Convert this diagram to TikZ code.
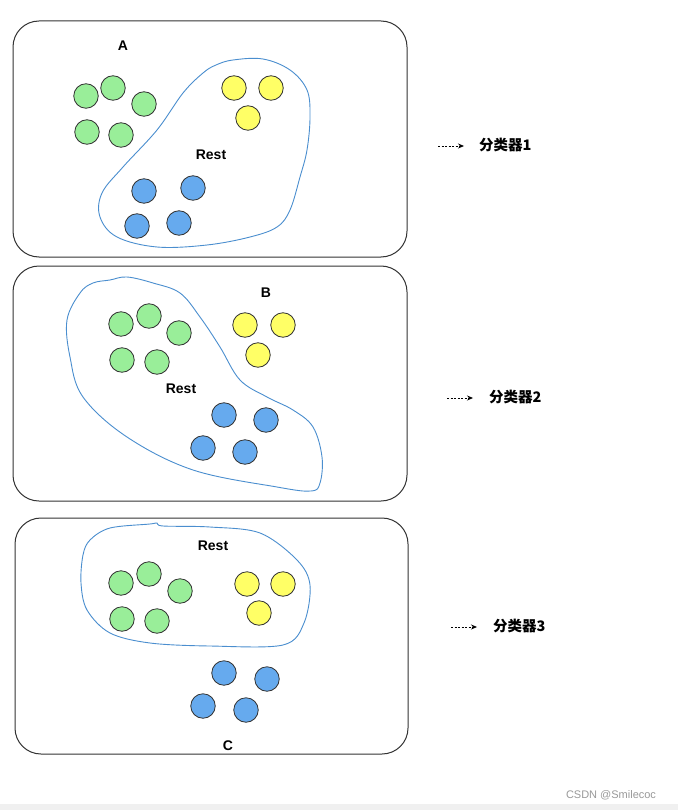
\documentclass[tikz,border=0pt]{standalone}
\usepackage{fontspec}
\setmainfont{Liberation Sans}
\newfontfamily\cjkfont{Noto Sans CJK SC}
\usetikzlibrary{arrows.meta}
\definecolor{gfill}{HTML}{99EE99}
\definecolor{yfill}{HTML}{FFFF66}
\definecolor{bfill}{HTML}{66AAEE}
\definecolor{blobc}{HTML}{4A8ECF}
\definecolor{edgec}{HTML}{333333}
\tikzset{
  panel/.style={draw=edgec, line width=1pt, rounded corners=26pt},
  dot/.style={circle, draw=edgec, line width=0.8pt, minimum size=24.5pt, inner sep=0pt},
  gdot/.style={dot, fill=gfill},
  ydot/.style={dot, fill=yfill},
  bdot/.style={dot, fill=bfill},
  blob/.style={draw=blobc, line width=0.9pt},
  lbl/.style={font=\fontsize{14}{16}\selectfont\bfseries, inner sep=0pt},
  clbl/.style={font=\fontsize{14.5}{16}\selectfont\bfseries\cjkfont, inner sep=0pt, anchor=west},
  darrow/.style={-{Stealth[length=6pt,width=5pt]}, dash pattern=on 2pt off 1.5pt, line width=0.8pt}
}
\begin{document}
\begin{tikzpicture}[x=1pt,y=-1pt]
\useasboundingbox (0,0) rectangle (678,810);
\fill[white] (0,0) rectangle (678,810);
\fill[black!6] (0,804) rectangle (678,810);

% ---------- Panel A ----------
\draw[panel] (13,21) rectangle (407,257);
\draw[blob] plot[smooth cycle, tension=0.6] coordinates {
 (216,65) (233,60) (263,59) (290,70) (307,90) (310,117) (307,150) (300,177)
 (290,210) (277,227) (250,237) (207,245) (157,247) (117,237) (100,217)
 (102,193) (123,167) (157,130) (183,93) (203,73)};
\node[lbl] (A) at (123,46) {A};
\node[lbl] (restA) at (211,155) {Rest};
\node[gdot] (ga1) at (86,96) {};
\node[gdot] (ga2) at (113,88) {};
\node[gdot] (ga3) at (144,104) {};
\node[gdot] (ga4) at (87,132) {};
\node[gdot] (ga5) at (121,135) {};
\node[ydot] (ya1) at (234,88) {};
\node[ydot] (ya2) at (271,88) {};
\node[ydot] (ya3) at (248,118) {};
\node[bdot] (ba1) at (144,191) {};
\node[bdot] (ba2) at (193,188) {};
\node[bdot] (ba3) at (137,226) {};
\node[bdot] (ba4) at (179,223) {};
\coordinate (s1) at (438,146);
\coordinate (e1) at (464,146);
\draw[darrow] (s1) -- (e1);
\node[clbl] (c1) at (479,145) {分类器1};

% ---------- Panel B ----------
\draw[panel] (13,266) rectangle (407,501);
\draw[blob] plot[smooth cycle, tension=0.6] coordinates {
 (127,277) (153,283) (180,293) (200,317) (220,347) (240,380) (267,397)
 (293,410) (313,427) (322,457) (320,483) (311,491) (277,487) (193,470)
 (127,437) (83,397) (70,357) (67,320) (80,293) (93,283) (110,280)};
\node[lbl] (B) at (266,293) {B};
\node[lbl] (restB) at (181,389) {Rest};
\node[gdot] (gb1) at (121,324) {};
\node[gdot] (gb2) at (149,316) {};
\node[gdot] (gb3) at (179,333) {};
\node[gdot] (gb4) at (122,360) {};
\node[gdot] (gb5) at (157,362) {};
\node[ydot] (yb1) at (245,325) {};
\node[ydot] (yb2) at (283,325) {};
\node[ydot] (yb3) at (258,355) {};
\node[bdot] (bb1) at (224,415) {};
\node[bdot] (bb2) at (266,420) {};
\node[bdot] (bb3) at (203,448) {};
\node[bdot] (bb4) at (245,452) {};
\coordinate (s2) at (447,398);
\coordinate (e2) at (473,398);
\draw[darrow] (s2) -- (e2);
\node[clbl] (c2) at (489,397) {分类器2};

% ---------- Panel C ----------
\draw[panel] (15,518) rectangle (408,754);
\draw[blob] plot[smooth cycle, tension=0.55] coordinates {
 (90,540) (110,528) (150,524) (157,523) (163,526) (210,527) (260,533)
 (297,560) (310,585) (304,623) (283,645) (210,646) (150,643) (110,633)
 (87,610) (81,583) (83,555)};
\node[lbl] (C) at (228,746) {C};
\node[lbl] (restC) at (213,546) {Rest};
\node[gdot] (gc1) at (121,583) {};
\node[gdot] (gc2) at (149,574) {};
\node[gdot] (gc3) at (180,591) {};
\node[gdot] (gc4) at (122,619) {};
\node[gdot] (gc5) at (157,621) {};
\node[ydot] (yc1) at (247,584) {};
\node[ydot] (yc2) at (283,584) {};
\node[ydot] (yc3) at (259,613) {};
\node[bdot] (bc1) at (224,673) {};
\node[bdot] (bc2) at (267,679) {};
\node[bdot] (bc3) at (203,706) {};
\node[bdot] (bc4) at (246,710) {};
\coordinate (s3) at (451,627);
\coordinate (e3) at (477,627);
\draw[darrow] (s3) -- (e3);
\node[clbl] (c3) at (493,626) {分类器3};

% watermark
\node[font=\fontsize{11}{12}\selectfont, text=black!40, inner sep=0pt] (wm) at (611,795) {CSDN @Smilecoc};
\end{tikzpicture}
\end{document}
